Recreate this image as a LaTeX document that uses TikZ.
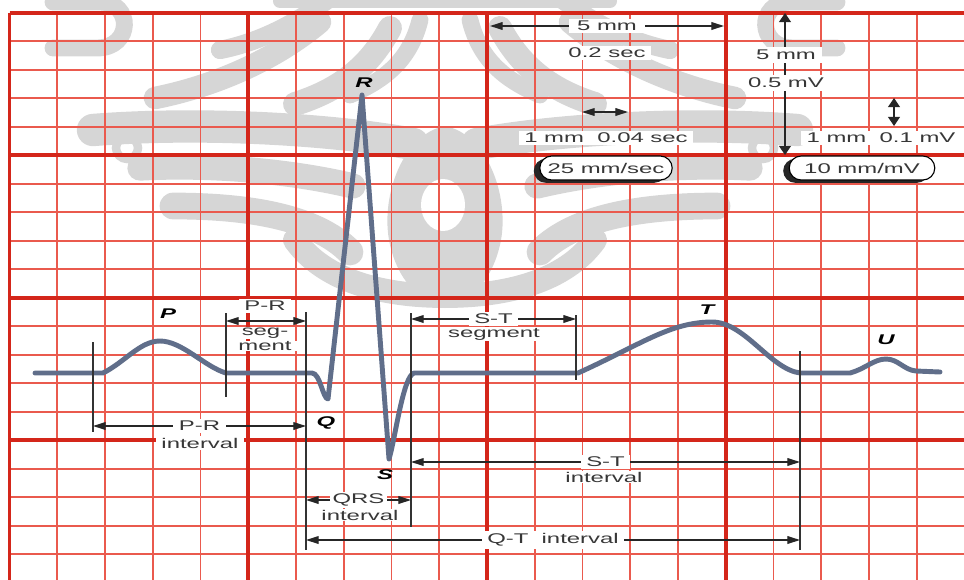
\documentclass[tikz,border=0pt]{standalone}
\usepackage{fontspec}
\setmainfont{Liberation Sans}
\usepackage{xcolor}
\usepackage{tikz}
\usetikzlibrary{arrows.meta,calc,shapes.misc,shadows}
\definecolor{gridthin}{RGB}{234,90,78}
\definecolor{gridthick}{RGB}{212,38,26}
\definecolor{ecgline}{RGB}{96,110,138}
\definecolor{labtext}{RGB}{55,55,55}
\definecolor{markgray}{RGB}{214,214,214}
\newcommand{\wide}[1]{\scalebox{1.7}[1]{#1}}
\tikzset{
  minor/.style={gridthin, line width=1.3pt},
  major/.style={gridthick, line width=2.6pt},
  emblem/.style={markgray, line cap=round},
  trace/.style={ecgline, line width=3.5pt, line join=round, line cap=round},
  marker/.style={black!80, line width=1.1pt},
  dimh/.style={{Triangle[length=9pt,width=5.5pt]}-{Triangle[length=9pt,width=5.5pt]}, black!85, line width=0.9pt},
  dimv/.style={{Triangle[length=6.5pt,width=8.5pt]}-{Triangle[length=6.5pt,width=8.5pt]}, black!85, line width=0.9pt},
  lbl/.style={fill=white, text=labtext, font=\fontsize{10}{11}\selectfont, inner xsep=4pt, inner ysep=1.5pt},
  wave/.style={font=\fontsize{10}{11}\selectfont\bfseries\itshape, inner sep=1pt},
  speedbox/.style={rounded rectangle, draw=black, line width=0.8pt, fill=white, text=labtext,
    font=\fontsize{10}{11}\selectfont, minimum height=0.6cm, inner xsep=2pt,
    drop shadow={shadow xshift=-0.15cm, shadow yshift=-0.07cm, fill=black!85, opacity=1}}}

\begin{document}
\begin{tikzpicture}[x=0.025cm, y=-0.025cm]
  \useasboundingbox (0,0) rectangle (964,579);
  \begin{scope}
    \clip (0,0) rectangle (964,579);
    % faint emblem behind the paper
    \foreach \s in {1,-1}{
      \begin{scope}[shift={(445,0)}, xscale=\s]
        \draw[emblem, line width=12pt] (-392,2) -- (-345,2) .. controls (-312,2) and (-312,48) .. (-348,48) -- (-392,48);
        \draw[emblem, line width=10pt] (-165,1) -- (0,1);
        \draw[emblem, line width=16pt] (-290,98) .. controls (-230,86) and (-170,60) .. (-125,22);
        \draw[emblem, line width=13pt] (-225,50) .. controls (-185,42) and (-150,24) .. (-112,-4);
        \draw[emblem, line width=17pt] (-150,104) .. controls (-105,90) and (-75,66) .. (-55,28);
        \draw[emblem, line width=12pt] (-95,95) .. controls (-60,80) and (-35,60) .. (-25,20);
        \draw[emblem, line width=23pt] (-352,130) .. controls (-250,122) and (-120,128) .. (-32,144);
        \draw[emblem, line width=6pt] (-318,148) circle (11);
        \draw[emblem, line width=18pt] (-305,168) .. controls (-230,164) and (-150,172) .. (-92,186);
        \draw[emblem, line width=19pt] (-272,206) .. controls (-200,206) and (-130,216) .. (-95,252);
        \draw[emblem, line width=17pt] (-150,240) .. controls (-120,282) and (-60,296) .. (0,296);
        \fill[markgray] (0,126) .. controls (-42,134) and (-64,195) .. (-56,240)
          .. controls (-48,282) and (-24,302) .. (0,308) -- cycle;
      \end{scope}
    }
    \fill[white] (443,205) ellipse (22 and 26);
    % paper grid
    \foreach \k in {0,...,20} \draw[minor] (9.5+47.75*\k,12.7) -- (9.5+47.75*\k,590);
    \foreach \j in {0,...,20} \draw[minor] (9.5,12.7+28.5*\j) -- (975,12.7+28.5*\j);
    \foreach \k in {0,5,10,15} \draw[major] (9.5+47.75*\k,12.7) -- (9.5+47.75*\k,590);
    \foreach \j in {0,5,10,15} \draw[major] (9.5,12.7+28.5*\j) -- (975,12.7+28.5*\j);
  \end{scope}

  % ecg trace
  \draw[trace] (35,373) -- (103,373) .. controls (125,362) and (140,341) .. (160,341)
    .. controls (182,341) and (205,367) .. (226,373) -- (312,373)
    .. controls (320,373) and (323,399) .. (328,399) -- (362,95) -- (389,459)
    .. controls (395,440) and (403,376) .. (414,373) -- (578,373)
    .. controls (640,345) and (670,322) .. (712,322) .. controls (745,322) and (770,369) .. (800,373)
    -- (850,373) .. controls (865,369) and (874,359) .. (886,359)
    .. controls (898,359) and (904,370) .. (916,371) -- (940,372);

  % markers
  \foreach \m/\x/\ya/\yb in {mP/93/342/432, mPR/226/313/397, mQ/306/312/550,
      mS/411/313/527, mST/576/315/380, mT/800/351/550}{
    \coordinate (\m-t) at (\x,\ya);
    \coordinate (\m-b) at (\x,\yb);
    \draw[marker] (\m-t) -- (\m-b);
  }

  % intervals and segments
  \draw[dimh] (mPR-t |- 0,321) -- (mQ-t |- 0,321);
  \node[lbl] (prsegA) at (265,306) {\wide{P-R}};
  \node[lbl, inner ysep=0.3pt] (prsegB) at (265,333) {\wide{seg-}};
  \node[lbl, inner ysep=0.3pt] (prsegC) at (265,346) {\wide{ment}};

  \draw[dimh] (mP-b |- 0,426) -- node[lbl] (printA) {\wide{P-R}} (mQ-t |- 0,426);
  \node[lbl] (printB) at (200,443) {\wide{interval}};

  \draw[dimh] (mQ-t |- 0,500) -- node[lbl, inner xsep=2pt] (qrsA) {\wide{QRS}} (mS-t |- 0,500);
  \node[lbl, inner ysep=0.5pt] (qrsB) at (360,515) {\wide{interval}};

  \draw[dimh] (mQ-t |- 0,540) -- node[lbl] (qtint) {\wide{Q-T\ \ interval}} (mT-t |- 0,540);

  \draw[dimh] (mS-t |- 0,319) -- node[lbl] (stsegA) {\wide{S-T}} (mST-t |- 0,319);
  \node[lbl, inner ysep=0.5pt] (stsegB) at (494,334) {\wide{segment}};

  \draw[dimh] (mS-t |- 0,462) -- node[lbl] (stintA) {\wide{S-T}} (mT-t |- 0,462);
  \node[lbl, inner ysep=0.5pt] (stintB) at (604,477) {\wide{interval}};

  % wave names
  \node[wave] (P) at (168,314) {\wide{P}};
  \node[wave] (Q) at (326,423) {\wide{Q}};
  \node[wave] (R) at (364,83) {\wide{R}};
  \node[wave] (S) at (385,475) {\wide{S}};
  \node[wave] (T) at (707,310) {\wide{T}};
  \node[wave] (U) at (886,340) {\wide{U}};

  % time scale
  \coordinate (tA) at (490,26);
  \coordinate (tB) at (724,26);
  \draw[dimh] (tA) -- node[lbl, inner xsep=6pt] (tmm) {\wide{5 mm}} (tB);
  \node[lbl] (tsec) at (607,53) {\wide{0.2 sec}};
  \coordinate (ta) at (582,112);
  \coordinate (tb) at (628,112);
  \draw[dimh] (ta) -- (tb);
  \node[lbl] (tsmall) at (606,138) {\wide{1 mm\ \ 0.04 sec}};
  \node[speedbox, minimum width=3.45cm] (speed) at (606,168) {\wide{25 mm/sec}};

  % voltage scale
  \coordinate (vA) at (785,13);
  \coordinate (vB) at (785,155);
  \draw[dimv] (vA) -- (vB);
  \node[lbl, inner ysep=2pt] (vmm) at (786,55) {\wide{5 mm}};
  \node[lbl, inner ysep=2pt] (vmv) at (786,83) {\wide{0.5 mV}};
  \coordinate (va) at (894,98);
  \coordinate (vb) at (894,126);
  \draw[dimv] (va) -- (vb);
  \node[lbl] (vsmall) at (881,138) {\wide{1 mm\ \ 0.1 mV}};
  \node[speedbox, minimum width=3.78cm] (gain) at (862,168) {\wide{10 mm/mV}};
\end{tikzpicture}
\end{document}
